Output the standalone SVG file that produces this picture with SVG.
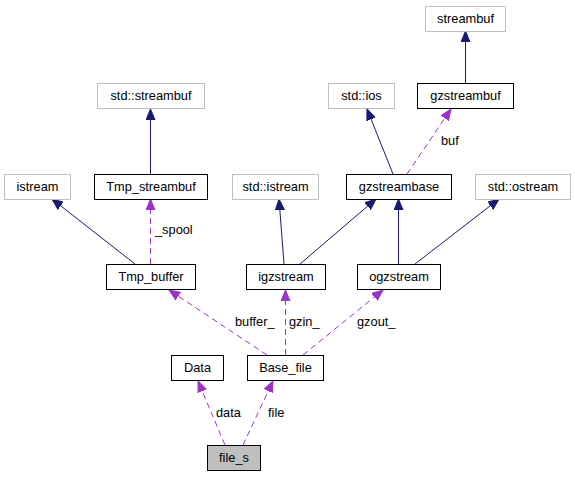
<svg xmlns="http://www.w3.org/2000/svg" width="575" height="477" viewBox="0 0 575 477">
<style>
text{font-family:"Liberation Sans",Arial,sans-serif;font-size:12.8px;fill:#000}
.n text{text-anchor:middle}
.g{fill:#fff;stroke:#bfbfbf;stroke-width:1}
.b{fill:#fff;stroke:#000;stroke-width:1}
.inh{stroke:#191970;stroke-width:1;fill:none;marker-end:url(#ab)}
.use{stroke:#9a32cd;stroke-width:1;fill:none;stroke-dasharray:6,4;marker-end:url(#ap)}
</style>
<defs>
<marker id="ab" markerUnits="userSpaceOnUse" markerWidth="12" markerHeight="10" viewBox="0 0 12 10" refX="11" refY="5" orient="auto"><path d="M0,0.5 L11,5 L0,9.5 Z" fill="#191970" stroke="#191970"/></marker>
<marker id="ap" markerUnits="userSpaceOnUse" markerWidth="12" markerHeight="10" viewBox="0 0 12 10" refX="11" refY="5" orient="auto"><path d="M0,0.5 L11,5 L0,9.5 Z" fill="#9a32cd" stroke="#9a32cd"/></marker>
</defs>
<rect width="575" height="477" fill="#fff"/>
<g id="edges">
<line class="inh" x1="150.5" y1="174" x2="150.5" y2="109"/>
<line class="inh" x1="135" y1="264" x2="52" y2="199"/>
<line class="use" x1="150.5" y1="264" x2="150.5" y2="199"/>
<line class="inh" x1="284" y1="264" x2="279" y2="199"/>
<line class="inh" x1="300" y1="264" x2="376" y2="199"/>
<line class="inh" x1="398.5" y1="264" x2="398.5" y2="199"/>
<line class="inh" x1="415" y1="264" x2="499" y2="199"/>
<line class="inh" x1="393" y1="174" x2="367" y2="109"/>
<line class="use" x1="407" y1="174" x2="451" y2="109"/>
<line class="inh" x1="465.5" y1="83" x2="465.5" y2="31"/>
<line class="use" x1="267" y1="355" x2="169" y2="290"/>
<line class="use" x1="285.5" y1="355" x2="285.5" y2="290"/>
<line class="use" x1="303" y1="355" x2="383" y2="290"/>
<line class="use" x1="225" y1="445" x2="198" y2="381"/>
<line class="use" x1="243" y1="445" x2="273" y2="381"/>
<text x="155" y="234">_spool</text>
<text x="441" y="145">buf</text>
<text x="235" y="326">buffer_</text>
<text x="289" y="326">gzin_</text>
<text x="357" y="326">gzout_</text>
<text x="216" y="417">data</text>
<text x="268" y="417">file</text>
</g>
<g id="streambuf" class="n"><rect class="g" x="425.5" y="6.5" width="80" height="25"/><text x="465.5" y="23">streambuf</text></g>
<g id="std_streambuf" class="n"><rect class="g" x="97.5" y="83.5" width="107" height="25"/><text x="151" y="100">std::streambuf</text></g>
<g id="std_ios" class="n"><rect class="g" x="328.5" y="83.5" width="66" height="25"/><text x="361.5" y="100">std::ios</text></g>
<g id="gzstreambuf" class="n"><rect class="b" x="417.5" y="83.5" width="96" height="25"/><text x="465.5" y="100">gzstreambuf</text></g>
<g id="istream" class="n"><rect class="g" x="4.5" y="174.5" width="66" height="25"/><text x="37.5" y="191">istream</text></g>
<g id="Tmp_streambuf" class="n"><rect class="b" x="94.5" y="174.5" width="113" height="25"/><text x="151" y="191">Tmp_streambuf</text></g>
<g id="std_istream" class="n"><rect class="g" x="232.5" y="174.5" width="86" height="25"/><text x="275.5" y="191">std::istream</text></g>
<g id="gzstreambase" class="n"><rect class="b" x="346.5" y="174.5" width="105" height="25"/><text x="399" y="191">gzstreambase</text></g>
<g id="std_ostream" class="n"><rect class="g" x="475.5" y="174.5" width="95" height="25"/><text x="523" y="191">std::ostream</text></g>
<g id="Tmp_buffer" class="n"><rect class="b" x="106.5" y="264.5" width="89" height="25"/><text x="151" y="281">Tmp_buffer</text></g>
<g id="igzstream" class="n"><rect class="b" x="246.5" y="264.5" width="79" height="25"/><text x="286" y="281">igzstream</text></g>
<g id="ogzstream" class="n"><rect class="b" x="357.5" y="264.5" width="83" height="25"/><text x="399" y="281">ogzstream</text></g>
<g id="Data" class="n"><rect class="b" x="171.5" y="355.5" width="52" height="25"/><text x="197.5" y="372">Data</text></g>
<g id="Base_file" class="n"><rect class="b" x="247.5" y="355.5" width="76" height="25"/><text x="285.5" y="372">Base_file</text></g>
<g id="file_s" class="n"><rect class="b" x="207.5" y="445.5" width="53" height="25" fill="#bfbfbf" style="fill:#bfbfbf"/><text x="234" y="462">file_s</text></g>
</svg>
